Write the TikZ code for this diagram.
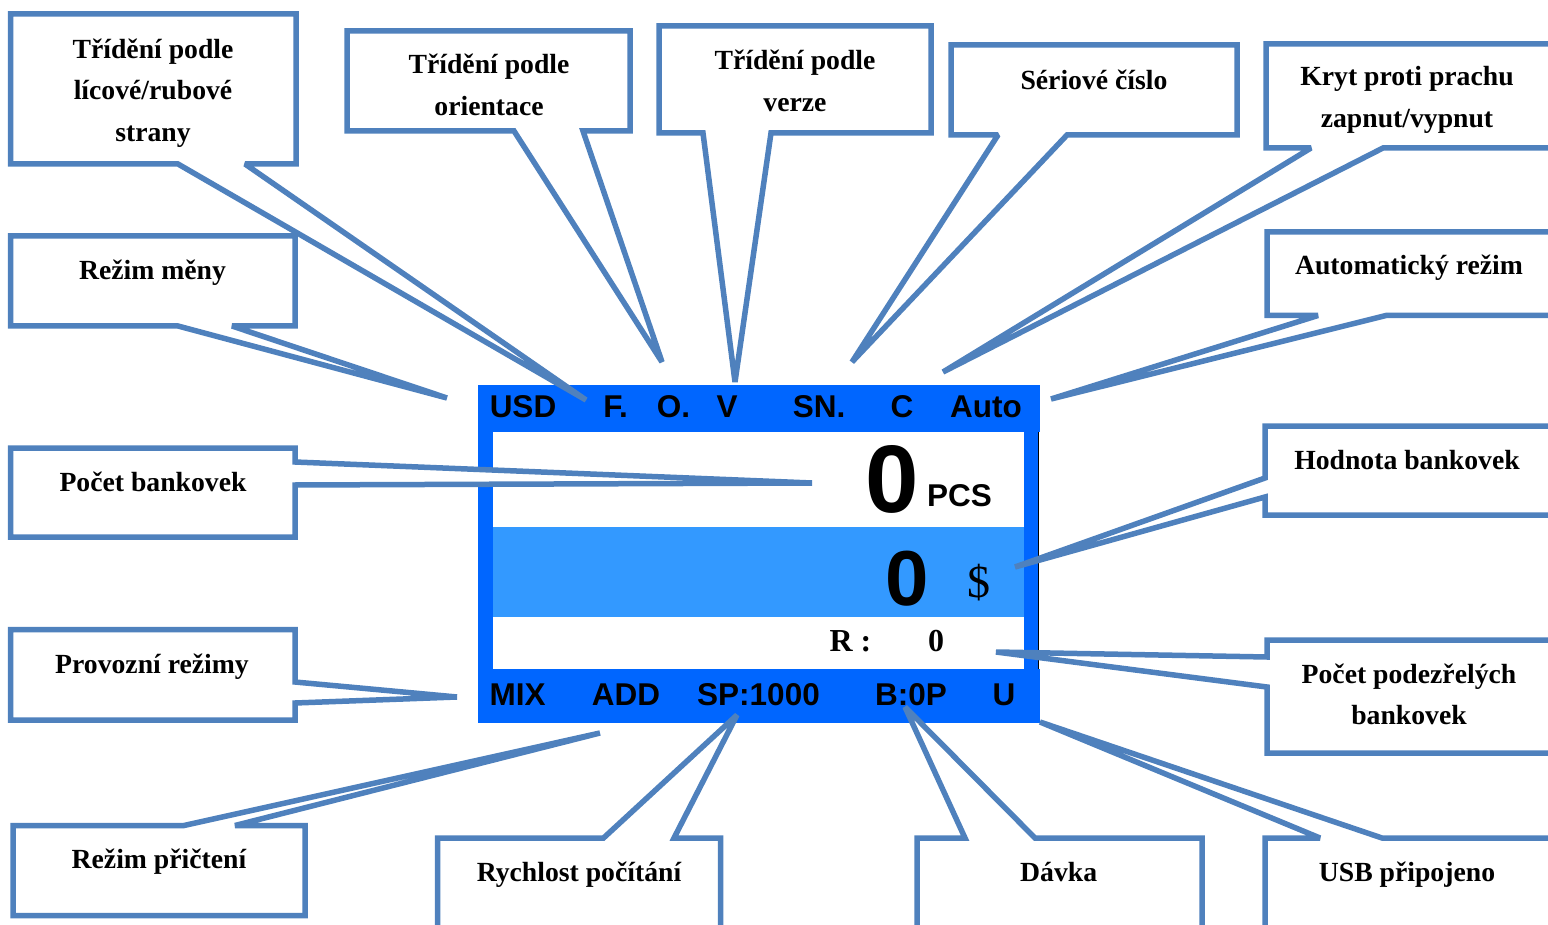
\documentclass[tikz,border=0pt]{standalone}
\usepackage{fontspec}
\setmainfont{Liberation Serif}
\newfontfamily\lcdfamily{Liberation Sans}
\definecolor{cb}{RGB}{79,129,189}
\definecolor{lcddark}{RGB}{0,102,255}
\definecolor{lcdlight}{RGB}{51,153,255}
\newcommand\lblfont{\fontsize{27.7}{41.5}\selectfont\bfseries}
\newcommand\lcdf{\lcdfamily\bfseries\fontsize{31.5}{36}\selectfont}
\newcommand\ml[1]{\begin{tabular}[t]{@{}c@{}}#1\end{tabular}}
\begin{document}
\begin{tikzpicture}[x=1pt,y=-1pt,
  cbox/.style={draw=cb, line width=5.5pt, fill=white, miter limit=2},
  lbl/.style={anchor=base, inner sep=0pt, font=\lblfont},
  lcdt/.style={anchor=base, inner sep=0pt, font=\lcdf}]
\useasboundingbox (0,0) rectangle (1548,925);
\clip (0,0) rectangle (1548,925);
% LCD display
\fill[lcddark] (478,385) rectangle (1040,432);
\fill[lcddark] (478,669) rectangle (1040,723);
\fill[lcddark] (478,432) rectangle (493,669);
\fill[lcddark] (1023.7,432) rectangle (1037.5,669);
\fill[lcdlight] (493,527) rectangle (1023.7,617);
\draw[black, line width=1pt] (1038,432) -- (1038,669);
% tips
\coordinate (t1) at (586,400);
\coordinate (t2) at (447,398);
\coordinate (t3) at (662,362);
\coordinate (t4) at (735,382);
\coordinate (t5) at (852,362);
\coordinate (t6) at (943,372);
\coordinate (t7) at (1051,399);
\coordinate (t8) at (812,483);
\coordinate (t9) at (457,697);
\coordinate (t10) at (1015,567);
\coordinate (t11) at (996,652);
\coordinate (t12) at (1040,722);
\coordinate (t13) at (905,707);
\coordinate (t14) at (737,715);
\coordinate (t15) at (600,733);
% callouts
\draw[cbox] (10.5,236) -- (295,236) -- (295,326) -- (232,326) -- (t2) -- (178,326) -- (10.5,326) -- cycle;
\draw[cbox] (10.5,14) -- (296,14) -- (296,164) -- (245,164) -- (t1) -- (178,164) -- (10.5,164) -- cycle;
\draw[cbox] (347,31) -- (630,31) -- (630,131) -- (583,131) -- (t3) -- (514,131) -- (347,131) -- cycle;
\draw[cbox] (659,26) -- (931,26) -- (931,133) -- (771,133) -- (t4) -- (703,133) -- (659,133) -- cycle;
\draw[cbox] (951,45) -- (1237,45) -- (1237,135) -- (1067,135) -- (t5) -- (998,135) -- (951,135) -- cycle;
\draw[cbox] (1266,44) -- (1558,44) -- (1558,148) -- (1383,148) -- (t6) -- (1311,148) -- (1266,148) -- cycle;
\draw[cbox] (1267,232) -- (1558,232) -- (1558,315.5) -- (1386,315.5) -- (t7) -- (1318,315.5) -- (1267,315.5) -- cycle;
\draw[cbox] (10.5,448) -- (295,448) -- (295,462) -- (t8) -- (295,485) -- (295,537) -- (10.5,537) -- cycle;
\draw[cbox] (10.5,629.5) -- (295,629.5) -- (295,682) -- (t9) -- (295,703) -- (295,720) -- (10.5,720) -- cycle;
\draw[cbox] (1265,426) -- (1558,426) -- (1558,515) -- (1265,515) -- (1265,497) -- (t10) -- (1265,478) -- cycle;
\draw[cbox] (1267,640) -- (1558,640) -- (1558,753) -- (1267,753) -- (1267,687) -- (t11) -- (1267,657) -- cycle;
\draw[cbox] (1265,838) -- (1320,838) -- (t12) -- (1382,838) -- (1558,838) -- (1558,935) -- (1265,935) -- cycle;
\draw[cbox] (917,838) -- (965,838) -- (t13) -- (1035,838) -- (1202,838) -- (1202,935) -- (917,935) -- cycle;
\draw[cbox] (437.5,838) -- (603.5,838) -- (t14) -- (674,838) -- (720.5,838) -- (720.5,935) -- (437.5,935) -- cycle;
\draw[cbox] (13,825.5) -- (184,825.5) -- (t15) -- (235,825.5) -- (305,825.5) -- (305,915.5) -- (13,915.5) -- cycle;
% callout texts
\node[lbl] (l1) at (153,58.5) {\ml{Třídění podle\\lícové/rubové\\strany}};
\node[lbl] (l2) at (152.5,280) {Režim měny};
\node[lbl] (l3) at (489,74) {\ml{Třídění podle\\orientace}};
\node[lbl] (l4) at (795,70) {\ml{Třídění podle\\verze}};
\node[lbl] (l5) at (1094,89.3) {Sériové číslo};
\node[lbl] (l6) at (1407,86) {\ml{Kryt proti prachu\\zapnut/vypnut}};
\node[lbl] (l7) at (1409,275) {Automatický režim};
\node[lbl] (l8) at (153,491.7) {Počet bankovek};
\node[lbl] (l9) at (152,673.3) {Provozní režimy};
\node[lbl] (l10) at (1407,469.3) {Hodnota bankovek};
\node[lbl] (l11) at (1409,683.3) {\ml{Počet podezřelých\\bankovek}};
\node[lbl] (l12) at (1407,881.7) {USB připojeno};
\node[lbl] (l13) at (1058.7,881.7) {Dávka};
\node[lbl] (l14) at (579,881.7) {Rychlost počítání};
\node[lbl] (l15) at (159,868.3) {Režim přičtení};
% LCD texts
\node[lcdt] (usd) at (523,417.3) {USD};
\node[lcdt] (f) at (615.6,417.3) {F.};
\node[lcdt] (o) at (673.6,417.3) {O.};
\node[lcdt] (v) at (727,417.3) {V};
\node[lcdt] (sn) at (819,417.3) {SN.};
\node[lcdt] (c) at (902,417.3) {C};
\node[lcdt] (auto) at (986,417.3) {Auto};
\node[lcdt] (mix) at (517.6,705) {MIX};
\node[lcdt] (add) at (626,705) {ADD};
\node[lcdt] (sp) at (758.5,705) {SP:1000};
\node[lcdt] (b) at (911,705) {B:0P};
\node[lcdt] (u) at (1004,705) {U};
\node[anchor=base, inner sep=0pt, font=\lcdfamily\bfseries\fontsize{96}{100}\selectfont] (pcsnum) at (892,512.7) {0};
\node[lcdt] (pcs) at (959.5,506.7) {PCS};
\node[anchor=base, inner sep=0pt, font=\lcdfamily\bfseries\fontsize{78}{80}\selectfont] (valnum) at (907.4,605) {0};
\node[anchor=base, inner sep=0pt, font=\fontsize{46}{50}\selectfont] (dollar) at (978.5,597) {\$};
\node[anchor=base, inner sep=0pt, font=\bfseries\fontsize{32}{36}\selectfont] (r) at (850.5,651.7) {R :};
\node[anchor=base, inner sep=0pt, font=\bfseries\fontsize{32}{36}\selectfont] (rnum) at (936,651.7) {0};
\end{tikzpicture}
\end{document}
